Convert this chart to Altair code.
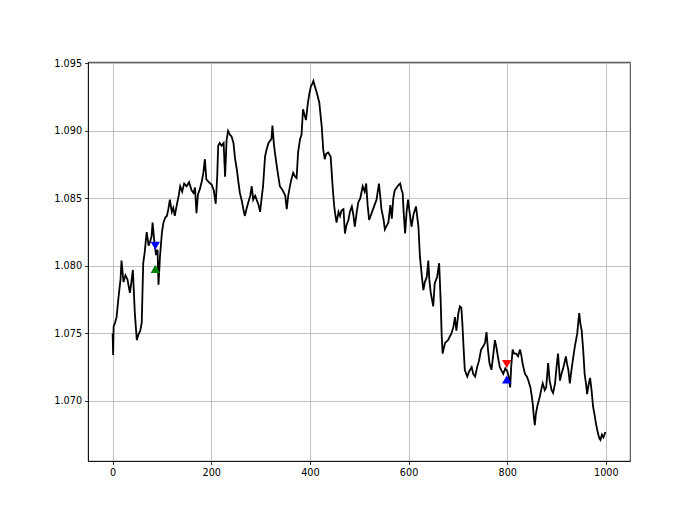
import altair as alt
import pandas as pd

T = [0, 1, 2, 5, 8, 12, 16, 18, 22, 26, 30, 35, 38, 41, 45, 49, 52, 56, 59, 62, 65, 69, 73, 76, 79, 81, 84, 88, 91, 93, 96,
     100, 103, 107, 110, 113, 116, 120, 123, 126, 130, 134, 137, 141, 145, 150, 155, 160, 164, 167, 170, 173, 177, 181, 184, 187, 190, 195,
     201, 205, 209, 212, 214, 217, 221, 225, 228, 231, 234, 238, 241, 245, 248, 252, 255, 258, 262, 265, 268, 272, 275, 279, 282, 285, 289, 292, 296, 299,
     302, 305, 309, 312, 316, 320, 322, 324, 327, 329, 332, 334, 339, 343, 346, 350, 353, 356, 360, 363, 366, 370, 373, 376, 380, 383, 386, 389, 392, 396, 399,
     402, 405, 407, 410, 414, 419, 422, 424, 427, 430, 433, 437, 442, 444, 446, 449, 451, 454, 458, 461, 464, 468, 471, 474, 478, 481, 485, 488, 491, 495, 498,
     502, 507, 511, 514, 517, 520, 524, 528, 531, 535, 540, 543, 545, 549, 552, 556, 559, 563, 566, 569, 572, 576, 580, 583, 586, 588, 590, 593, 596, 599,
     602, 606, 610, 615, 617, 620, 623, 627, 630, 633, 637, 640, 642, 645, 650, 653, 658, 662, 665, 667, 669, 674, 680, 684, 687, 691, 694, 697,
     701, 704, 707, 709, 711, 714, 719, 723, 728, 731, 735, 739, 743, 747, 751, 755, 758, 761, 764, 768, 772, 775, 778, 781, 785, 789, 792, 796,
     800, 803, 806, 808, 811, 814, 818, 822, 826, 829, 831, 836, 840, 843, 847, 850, 852, 854, 856, 858, 861, 866, 870, 872, 876, 879, 883, 886, 890, 893, 897,
     900, 903, 907, 910, 914, 919, 921, 924, 927, 930, 933, 937, 942, 944, 946, 948, 951, 954, 957, 960, 962, 965, 968, 971, 974, 977, 980, 984, 987, 989, 992, 995, 999]

V = [1.0750, 1.0734, 1.0755, 1.0758, 1.0762, 1.0777, 1.0790, 1.0804, 1.0788, 1.0793, 1.0790, 1.0780, 1.0788, 1.0797, 1.0765, 1.0745, 1.0749, 1.0752, 1.0758, 1.0802, 1.0810, 1.0825, 1.0815, 1.0818, 1.0822, 1.0832, 1.0820, 1.0808, 1.0812, 1.0786, 1.0807,
     1.0825, 1.0832, 1.0836, 1.0837, 1.0842, 1.0849, 1.0840, 1.0843, 1.0837, 1.0845, 1.0852, 1.0859, 1.0855, 1.0861, 1.0859, 1.0862, 1.0856, 1.0854, 1.0858, 1.0839, 1.0853, 1.0857, 1.0863, 1.0869, 1.0879, 1.0864, 1.0862,
     1.0860, 1.0856, 1.0846, 1.0866, 1.0889, 1.0891, 1.0889, 1.0891, 1.0866, 1.0893, 1.0900, 1.0897, 1.0896, 1.0891, 1.0880, 1.0871, 1.0862, 1.0854, 1.0848, 1.0842, 1.0837, 1.0843, 1.0847, 1.0852, 1.0859, 1.0849, 1.0852, 1.0849, 1.0845, 1.0840,
     1.0850, 1.0859, 1.0881, 1.0886, 1.0891, 1.0893, 1.0894, 1.0904, 1.0890, 1.0884, 1.0876, 1.0871, 1.0859, 1.0857, 1.0855, 1.0852, 1.0842, 1.0852, 1.0860, 1.0865, 1.0869, 1.0866, 1.0865, 1.0884, 1.0894, 1.0897, 1.0916, 1.0912, 1.0908, 1.0921, 1.0928,
     1.0933, 1.0935, 1.0937, 1.0933, 1.0928, 1.0921, 1.0910, 1.0903, 1.0886, 1.0879, 1.0883, 1.0884, 1.0881, 1.0870, 1.0859, 1.0845, 1.0839, 1.0832, 1.0840, 1.0837, 1.0841, 1.0842, 1.0824, 1.0830, 1.0834, 1.0840, 1.0844, 1.0838, 1.0829, 1.0840, 1.0847,
     1.0850, 1.0859, 1.0855, 1.0861, 1.0845, 1.0834, 1.0838, 1.0842, 1.0845, 1.0849, 1.0861, 1.0850, 1.0842, 1.0835, 1.0827, 1.0830, 1.0832, 1.0845, 1.0835, 1.0850, 1.0856, 1.0858, 1.0860, 1.0861, 1.0856, 1.0854, 1.0840, 1.0824, 1.0840, 1.0849,
     1.0840, 1.0829, 1.0838, 1.0844, 1.0838, 1.0829, 1.0807, 1.0792, 1.0782, 1.0788, 1.0792, 1.0804, 1.0790, 1.0780, 1.0770, 1.0787, 1.0792, 1.0802, 1.0775, 1.0750, 1.0735, 1.0743, 1.0745, 1.0748, 1.0750, 1.0755, 1.0762, 1.0752,
     1.0765, 1.0770, 1.0769, 1.0758, 1.0743, 1.0723, 1.0718, 1.0722, 1.0725, 1.0720, 1.0718, 1.0725, 1.0730, 1.0738, 1.0740, 1.0743, 1.0751, 1.0738, 1.0728, 1.0723, 1.0735, 1.0745, 1.0740, 1.0733, 1.0725, 1.0722, 1.0720, 1.0724,
     1.0722, 1.0718, 1.0710, 1.0725, 1.0738, 1.0735, 1.0735, 1.0733, 1.0738, 1.0733, 1.0728, 1.0720, 1.0718, 1.0715, 1.0710, 1.0703, 1.0697, 1.0688, 1.0682, 1.0690, 1.0696, 1.0703, 1.0710, 1.0713, 1.0708, 1.0710, 1.0728, 1.0715, 1.0708, 1.0706, 1.0713,
     1.0725, 1.0735, 1.0715, 1.0720, 1.0725, 1.0733, 1.0728, 1.0723, 1.0713, 1.0722, 1.0730, 1.0740, 1.0750, 1.0758, 1.0765, 1.0758, 1.0752, 1.0738, 1.0720, 1.0712, 1.0705, 1.0712, 1.0717, 1.0708, 1.0696, 1.0690, 1.0683, 1.0676, 1.0672, 1.0671, 1.0675, 1.0673, 1.0677]

M_T = [86.5, 86.5, 799, 799]
M_V = [1.07978, 1.08149, 1.07273, 1.07159]
M_SHAPE = ["triangle-up", "triangle-down", "triangle-down", "triangle-up"]
M_COLOR = ["#008000", "#0000ff", "#ff0000", "#0000ff"]

df = pd.DataFrame({"t": T, "v": V})
mk = pd.DataFrame({"t": M_T, "v": M_V, "shape": M_SHAPE, "color": M_COLOR})

xs = alt.Scale(domain=[-49.95, 1048.95], nice=False, zero=False)
ys = alt.Scale(domain=[1.06555, 1.0951], nice=False, zero=False)

xaxis = alt.Axis(values=[0, 200, 400, 600, 800, 1000], title=None, format="d")
yaxis = alt.Axis(values=[1.070, 1.075, 1.080, 1.085, 1.090, 1.095], title=None, format=".3f")

line = alt.Chart(df).mark_line(color="black", strokeWidth=1.8).encode(
    x=alt.X("t:Q", scale=xs, axis=xaxis),
    y=alt.Y("v:Q", scale=ys, axis=yaxis),
)

pts = alt.Chart(mk).mark_point(filled=True, size=88, opacity=1).encode(
    x=alt.X("t:Q", scale=xs),
    y=alt.Y("v:Q", scale=ys),
    shape=alt.Shape("shape:N", scale=None),
    color=alt.Color("color:N", scale=None),
)

chart = (line + pts).properties(
    width=542, height=399,
    autosize=alt.AutoSizeParams(type="none"),
    padding={"left": 80, "top": 54, "right": 62, "bottom": 49},
).configure_view(stroke="black", strokeWidth=0.8).configure_axis(
    labelFont="DejaVu Sans", labelFontSize=9.7, labelColor="black",
    tickColor="black", tickSize=3.4, tickWidth=0.8,
    domainColor="black", domainWidth=0.8,
    gridColor="#b0b0b0", gridWidth=0.8, labelPadding=3,
)

chart.save("out.html", embed_options={"renderer": "svg", "actions": False})
